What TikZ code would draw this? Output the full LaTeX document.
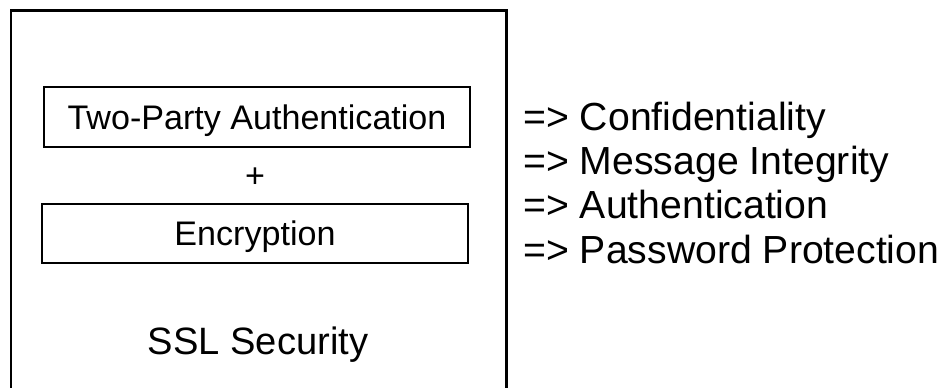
\documentclass[tikz,border=0pt]{standalone}
\usepackage{fontspec}
\setmainfont{Liberation Sans}
\usepackage{tikz}
\usetikzlibrary{positioning}
\tikzset{featbox/.style = {draw, line width=1.1pt, minimum width=8.52cm,
                           minimum height=1.19cm, inner sep=0, text depth=0pt,
                           font=\fontsize{19.4}{23}\selectfont}}
\tikzset{result/.style = {anchor=base west, inner sep=0,
                          font=\fontsize{22.3}{26}\selectfont}}

\begin{document}
\begin{tikzpicture}[x=0.02cm, y=-0.02cm]
    \useasboundingbox (0, 0) rectangle (946, 387);
    \begin{scope}
      \clip (0, 0) rectangle (946, 387);
      \draw [line width=1.7pt] (11, 400) -- (11, 10) -- (506, 10) -- (506, 400);
    \end{scope}

    \node [featbox] (auth) at (257, 117) {Two-Party Authentication};
    \node [font=\fontsize{19.4}{23}\selectfont] (plus) at (255, 178) {+};
    \node [featbox] (enc) at (255, 233.5) {Encryption};
    \node [text depth=0pt, font=\fontsize{21.7}{26}\selectfont] (ssl) at (258, 341) {SSL Security};

    \node [result] (conf) at (523, 130) {=> Confidentiality};
    \node [result] (integ) at (523, 174) {=> Message Integrity};
    \node [result] (authn) at (523, 218.5) {=> Authentication};
    \node [result] (pwd) at (523, 263) {=> Password Protection};
  \end{tikzpicture}
\end{document}
